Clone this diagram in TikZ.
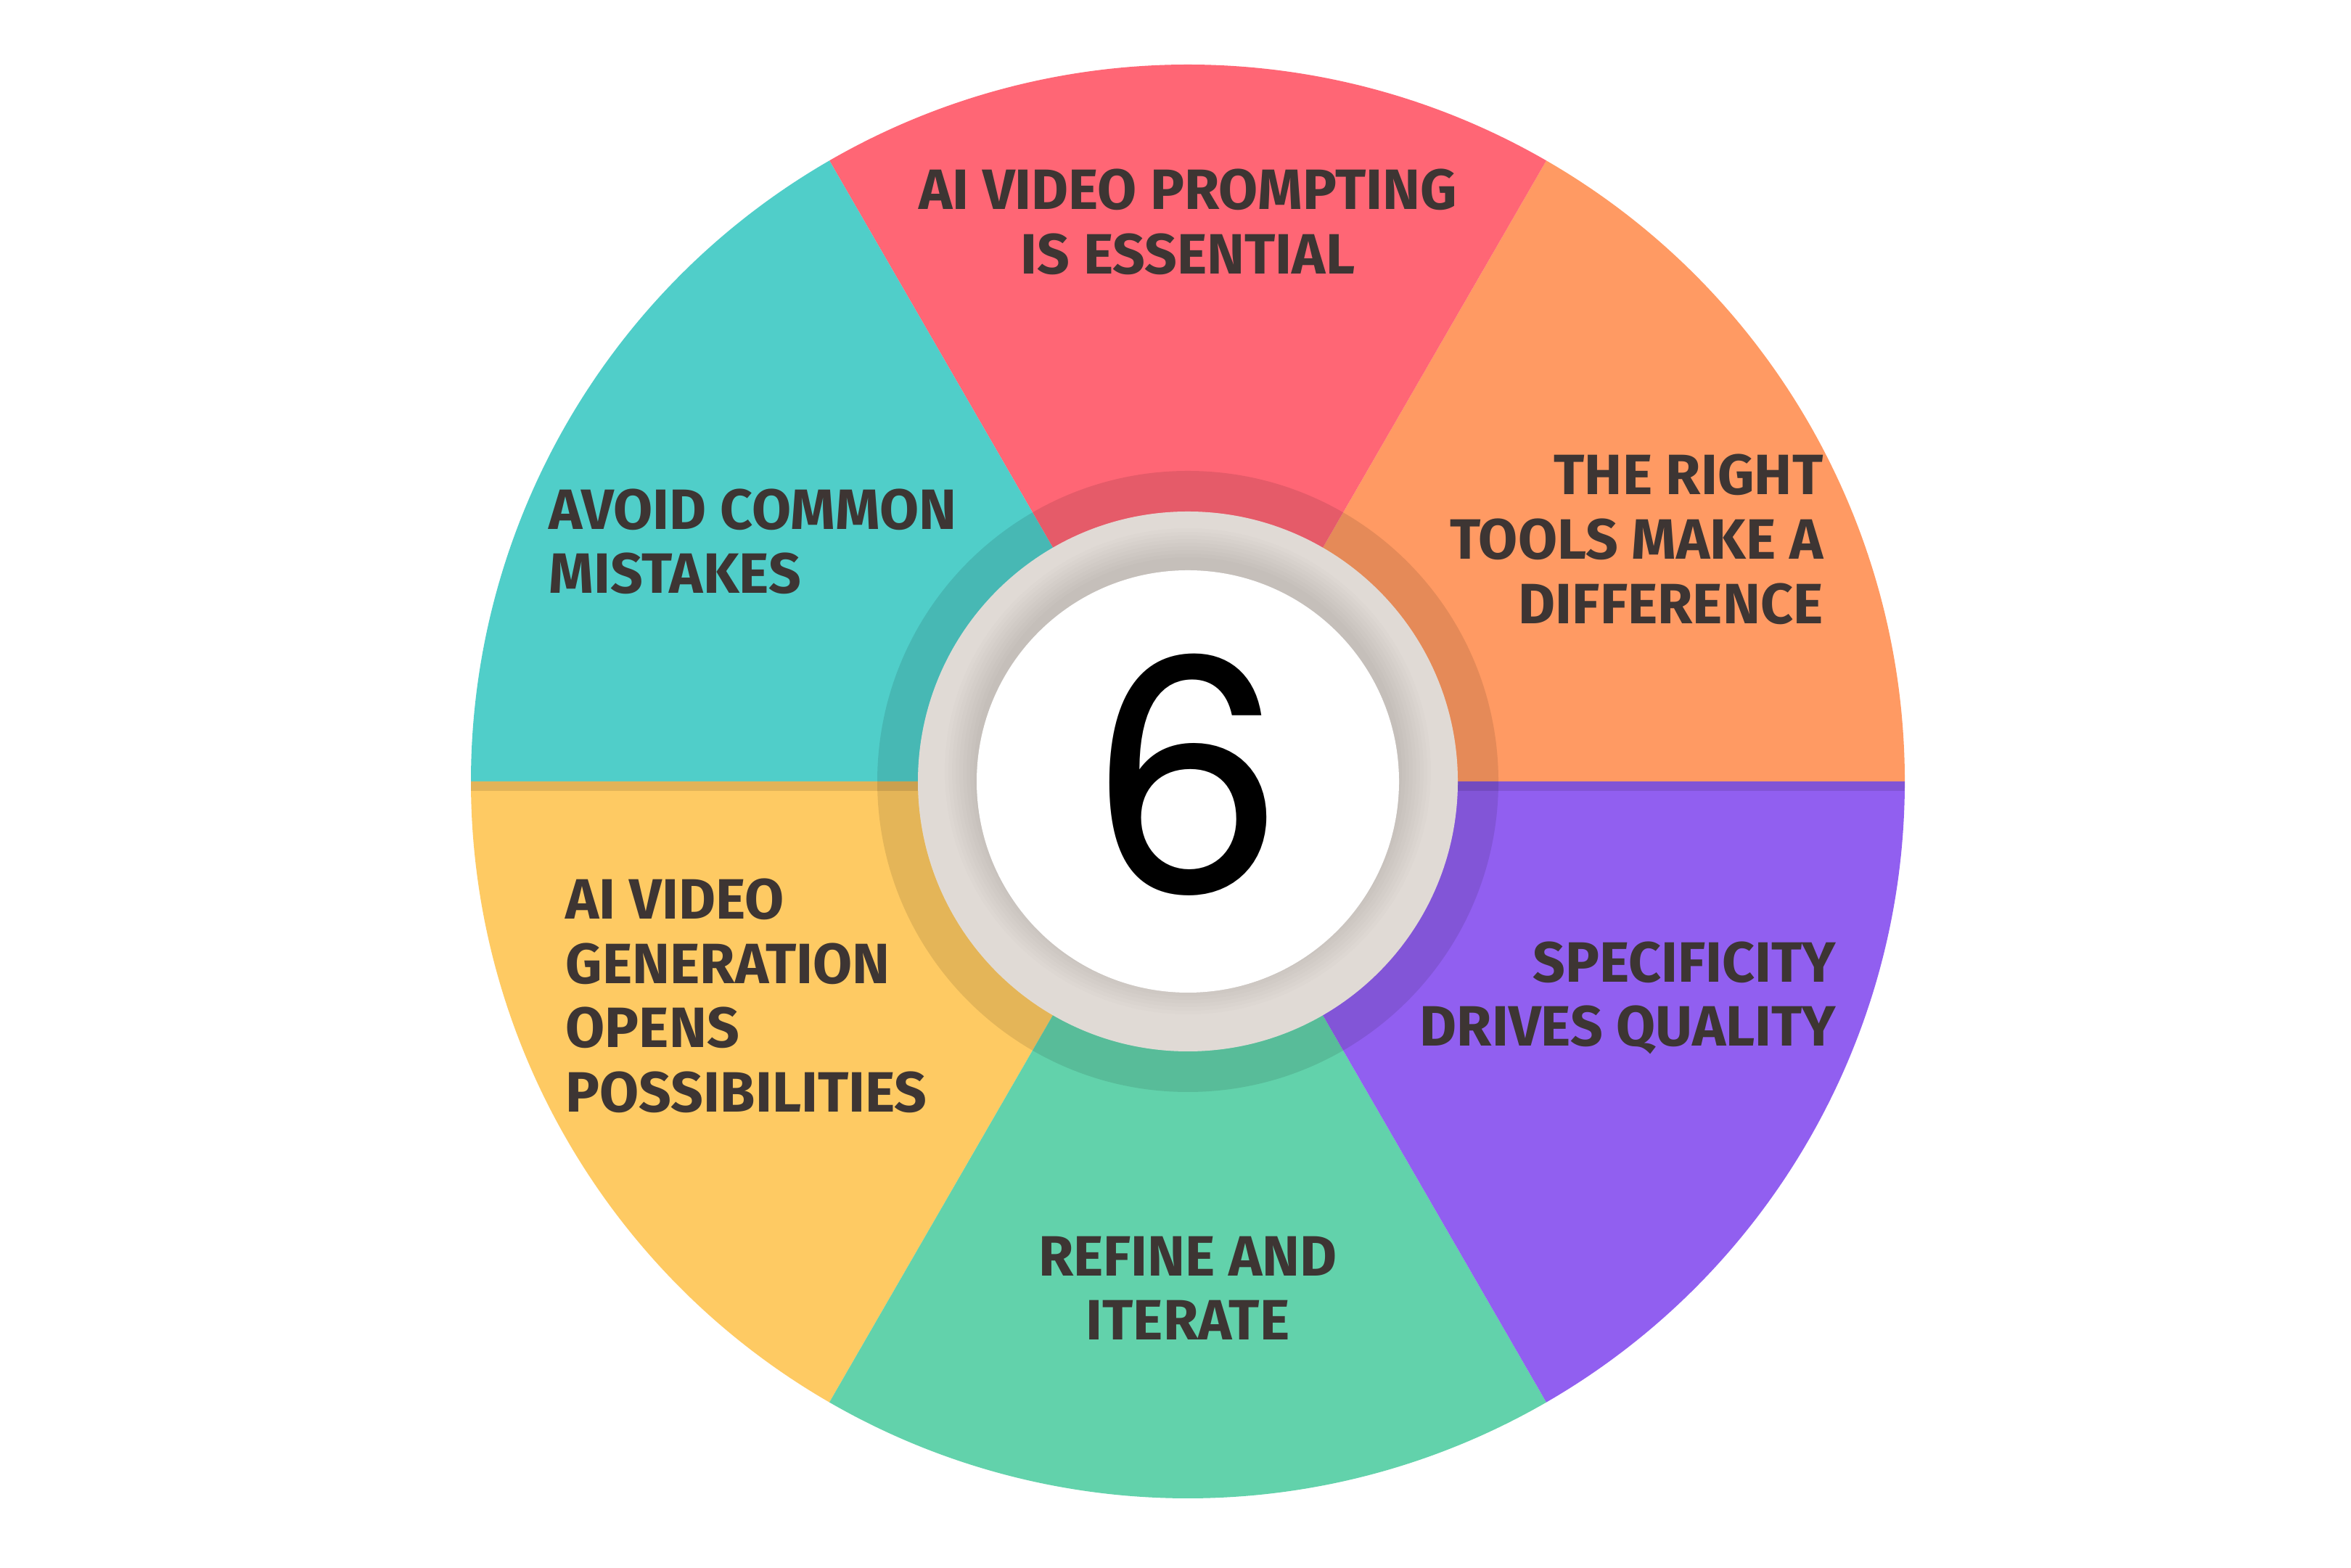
\documentclass[tikz,border=0pt]{standalone}
\usepackage{fontspec}
\usetikzlibrary{calc}
\newfontfamily\labelfont{Fira Sans}
\newfontfamily\numfont{TeX Gyre Heros}
\definecolor{cRed}{HTML}{FF6675}
\definecolor{cOrange}{HTML}{FF9A63}
\definecolor{cTeal}{HTML}{50CEC9}
\definecolor{cYellow}{HTML}{FECA63}
\definecolor{cGreen}{HTML}{62D2AB}
\definecolor{cPurple}{HTML}{915FF0}
\definecolor{cText}{HTML}{3D3533}
\definecolor{cRing}{HTML}{E0DAD5}
\tikzset{
  lbl/.style={font=\labelfont\bfseries\fontsize{22.3}{25.3}\selectfont, text=cText, inner sep=0pt},
  lblc/.style={lbl, anchor=base},
  lbll/.style={lbl, anchor=base west},
  lblr/.style={lbl, anchor=base east},
}
\begin{document}
\begin{tikzpicture}
\useasboundingbox (0,0) rectangle (32.4,21.6);
\fill[white] (0,0) rectangle (32.4,21.6);
\coordinate (C) at (16.37,10.83);
\coordinate (Cs) at (16.37,10.97);
% sectors
\foreach \a/\b/\c in {0/60/cOrange,60/120/cRed,120/180/cTeal,180/240/cYellow,240/300/cGreen,300/360/cPurple}{
  \fill[\c] (C) -- ++(\a:9.88) arc[start angle=\a, end angle=\b, radius=9.88] -- cycle;
}
% dark strip below the horizontal boundary
\begin{scope}
  \clip (C) circle (9.88);
  \fill[black, opacity=0.11] (6.3,10.70) rectangle (26.5,10.83);
\end{scope}
% dark ring
\fill[black, opacity=0.1, even odd rule] (C) circle (4.28) (C) circle (3.72);
% grey ring
\fill[cRing] (C) circle (3.72);
\begin{scope}
  \clip (C) circle (3.72);
  \foreach \r in {2.95,3.00,...,3.40}{
    \fill[black, opacity=0.012] (Cs) circle (\r);
  }
\end{scope}
% white centre
\fill[white] (C) circle (2.91);
\node[font=\numfont\fontsize{131}{131}\selectfont, inner sep=0pt] (six) at (16.37,10.92) {6};
% labels
\node[lblc] (t1) at (16.37,18.71) {AI VIDEO PROMPTING};
\node[lblc] (t2) at (16.37,17.82) {IS ESSENTIAL};
\node[lblr] (r1) at (25.13,14.78) {THE RIGHT};
\node[lblr] (r2) at (25.13,13.89) {TOOLS MAKE A};
\node[lblr] (r3) at (25.13,13.00) {DIFFERENCE};
\node[lbll] (l1) at (7.56,14.30) {AVOID COMMON};
\node[lbll] (l2) at (7.56,13.42) {MISTAKES};
\node[lbll] (y1) at (7.79,8.93) {AI VIDEO};
\node[lbll] (y2) at (7.79,8.04) {GENERATION};
\node[lbll] (y3) at (7.79,7.16) {OPENS};
\node[lbll] (y4) at (7.79,6.27) {POSSIBILITIES};
\node[lblr] (p1) at (25.31,8.06) {SPECIFICITY};
\node[lblr] (p2) at (25.31,7.18) {DRIVES QUALITY};
\node[lblc] (g1) at (16.37,4.01) {REFINE AND};
\node[lblc] (g2) at (16.37,3.13) {ITERATE};
\end{tikzpicture}
\end{document}
